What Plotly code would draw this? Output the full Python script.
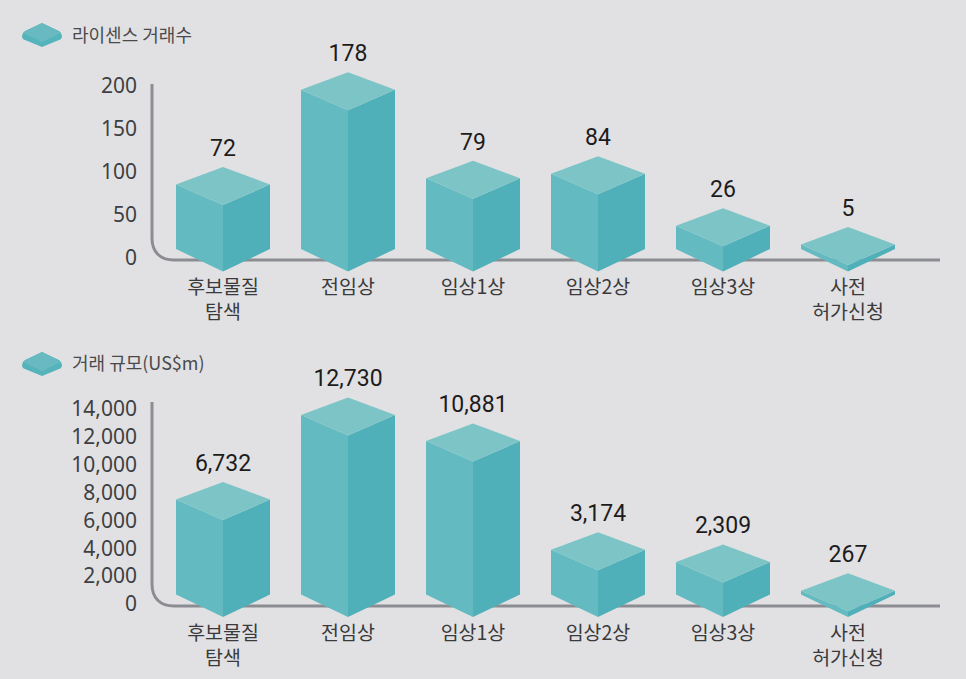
import plotly.graph_objects as go

FIG_W, FIG_H = 966, 679

categories = ["후보물질<br>탐색", "전임상", "임상1상", "임상2상", "임상3상", "사전<br>허가신청"]
deal_counts = [72, 178, 79, 84, 26, 5]
deal_values = [6732, 12730, 10881, 3174, 2309, 267]
count_ticks = [0, 50, 100, 150, 200]
value_ticks = [0, 2000, 4000, 6000, 8000, 10000, 12000, 14000]
legend_count = "라이센스 거래수"
legend_value = "거래 규모(US$m)"

FONT = "Noto Sans CJK KR"
NUM_FONT = "Noto Sans"
LABEL_FONT = "Roboto"
BG = "#e1e1e3"
LEFT, RIGHT, TOP = "#63bac1", "#4fb0b9", "#7cc4c6"
AXIS = "#8c8d93"

# x mapping, shared by both panels
X_L, X_R, X0, STEP = 152, 940, 223, 125
HALF_W = 47 / STEP
x_range = [(X_L - X0) / STEP, (X_R - X0) / STEP]

fig = go.Figure()


def panel(values, ticks, px_zero, scale, bar_scale, base_px, px_top, px_bottom, px_front, xa, ya, tickformat):
    u = 1 / scale                     # data units per pixel
    front = (px_zero - px_front) * u  # front-bottom vertex
    corner = 22.5 * u                 # bottom side-corner rise
    rise = 20.5 * u                   # top corner rise above front-top
    back = 38 * u                     # back corner rise above front-top
    xs, ys, labels = [], [], []
    lx, ly, rx, ry, tx, ty = [], [], [], [], [], []
    for i, v in enumerate(values):
        t = front + (base_px + v * bar_scale) * u
        lx += [i - HALF_W, i, i, i - HALF_W, i - HALF_W, None]
        ly += [front + corner, front, t, t + rise, front + corner, None]
        rx += [i, i + HALF_W, i + HALF_W, i, i, None]
        ry += [front, front + corner, t + rise, t, front, None]
        tx += [i - HALF_W, i, i + HALF_W, i, i - HALF_W, None]
        ty += [t + rise, t, t + rise, t + back, t + rise, None]
        xs.append(i)
        ys.append(t + back + 17 * u)
        labels.append(f"{v:,}")
    for px_, py_, col in ((lx, ly, LEFT), (rx, ry, RIGHT), (tx, ty, TOP)):
        fig.add_trace(go.Scatter(x=px_, y=py_, mode="lines", fill="toself", fillcolor=col,
                                 line=dict(width=0, color=col), hoverinfo="skip",
                                 showlegend=False, xaxis=xa, yaxis=ya))
    fig.add_trace(go.Scatter(x=xs, y=ys, mode="text", text=labels, textposition="middle center",
                             textfont=dict(family=LABEL_FONT, size=23, weight=400, color="#1d1b1c"),
                             hoverinfo="skip", showlegend=False, xaxis=xa, yaxis=ya, cliponaxis=False))
    axis_key = "yaxis" if ya == "y" else "yaxis" + ya[1:]
    xaxis_key = "xaxis" if xa == "x" else "xaxis" + xa[1:]
    layout = {}
    layout[xaxis_key] = dict(domain=[X_L / FIG_W, X_R / FIG_W], range=x_range, anchor=ya,
                             tickvals=list(range(len(categories))), ticktext=categories,
                             showgrid=False, zeroline=False, showline=False, ticks="",
                             ticklabelstandoff=1, fixedrange=True,
                             tickfont=dict(family=FONT, size=19.5, color="#3a3a3c"))
    layout[axis_key] = dict(domain=[1 - px_bottom / FIG_H, 1 - px_top / FIG_H],
                            range=[(px_zero - px_bottom) * u, (px_zero - px_top) * u], anchor=xa,
                            tickvals=ticks, tickformat=tickformat, showgrid=False, zeroline=False,
                            showline=False, ticks="", ticklabelstandoff=14, fixedrange=True,
                            tickfont=dict(family=NUM_FONT, size=21, color="#3f3f41"))
    fig.update_layout(**layout)


panel(deal_counts, count_ticks, 258, 0.86, 0.895, 2, 40, 272, 271.5, "x", "y", "d")
panel(deal_values, value_ticks, 604, 0.01393, 0.0141, 2, 355, 618, 617, "x2", "y2", ",d")


def px(x):
    return x / FIG_W


def py(y):
    return 1 - y / FIG_H


def axis_path(y_top, y_line):
    return (f"M {px(152)} {py(y_top)} L {px(152)} {py(y_line - 22)} "
            f"C {px(152)} {py(y_line - 8)} {px(160)} {py(y_line)} {px(174)} {py(y_line)} "
            f"L {px(940)} {py(y_line)}")


def swatch(cy):
    cx = 42
    hull = (f"M {px(cx-17)} {py(cy-3)} L {px(cx)} {py(cy-11)} L {px(cx+17)} {py(cy-3)} "
            f"Q {px(cx+20)} {py(cy-1)} {px(cx+20)} {py(cy+2)} Q {px(cx+20)} {py(cy+5)} {px(cx+17)} {py(cy+6)} "
            f"L {px(cx)} {py(cy+13)} L {px(cx-17)} {py(cy+6)} "
            f"Q {px(cx-20)} {py(cy+5)} {px(cx-20)} {py(cy+2)} Q {px(cx-20)} {py(cy-1)} {px(cx-17)} {py(cy-3)} Z")
    top = (f"M {px(cx-19)} {py(cy-1)} L {px(cx)} {py(cy-11)} L {px(cx+19)} {py(cy-1)} "
           f"L {px(cx)} {py(cy+8)} Z")
    return [
        dict(type="path", xref="paper", yref="paper", layer="below", line=dict(width=0),
             fillcolor="#55b3bb", path=hull),
        dict(type="path", xref="paper", yref="paper", layer="below", line=dict(width=0),
             fillcolor="#68bac0", path=top),
    ]


shapes = [
    dict(type="path", xref="paper", yref="paper", layer="below", path=axis_path(84, 260),
         line=dict(color=AXIS, width=3)),
    dict(type="path", xref="paper", yref="paper", layer="below", path=axis_path(402, 606),
         line=dict(color=AXIS, width=3)),
] + swatch(34) + swatch(363)

annotations = [
    dict(xref="paper", yref="paper", x=px(70), y=py(34), text=legend_count, showarrow=False,
         xanchor="left", yanchor="middle", font=dict(family=FONT, size=18, color="#4a4a4c")),
    dict(xref="paper", yref="paper", x=px(70), y=py(362), text=legend_value, showarrow=False,
         xanchor="left", yanchor="middle", font=dict(family=FONT, size=18, color="#4a4a4c")),
]

fig.update_layout(width=FIG_W, height=FIG_H, margin=dict(l=0, r=0, t=0, b=0),
                  paper_bgcolor=BG, plot_bgcolor="rgba(0,0,0,0)",
                  shapes=shapes, annotations=annotations, showlegend=False)

fig.write_html("out.html", config={"displayModeBar": False},
               post_script="document.body.style.margin='0';document.body.style.background='#e1e1e3';")
